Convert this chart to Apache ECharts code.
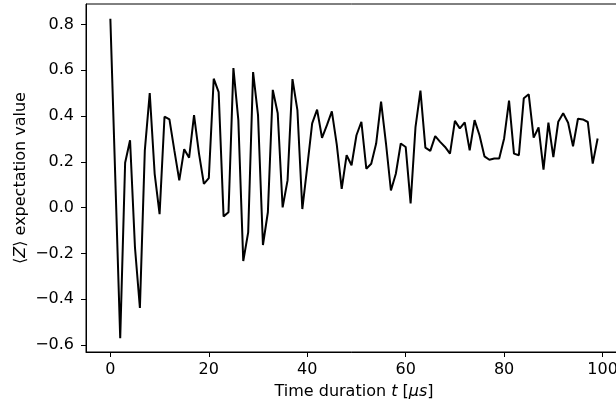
<!DOCTYPE html>
<html>
<head>
<meta charset="utf-8">
<script src="https://cdn.jsdelivr.net/npm/echarts@6/dist/echarts.min.js"></script>
<style>
html,body{margin:0;padding:0;background:#fff;}
#c{width:616px;height:408px;}
</style>
</head>
<body>
<div id="c"></div>
<script>
const times = [0,1,2,3,4,5,6,7,8,9,10,11,12,13,14,15,16,17,18,19,20,21,22,23,24,25,26,27,28,29,30,31,32,33,34,35,36,37,38,39,40,41,42,43,44,45,46,47,48,49,50,51,52,53,54,55,56,57,58,59,60,61,62,63,64,65,66,67,68,69,70,71,72,73,74,75,76,77,78,79,80,81,82,83,84,85,86,87,88,89,90,91,92,93,94,95,96,97,98,99];
const zValues = [0.825,0.13,-0.570,0.196,0.294,-0.174,-0.438,0.25,0.50,0.148,
-0.028,0.397,0.385,0.25,0.119,0.255,0.218,0.404,0.237,0.104,
0.129,0.563,0.504,-0.038,-0.02,0.609,0.382,-0.233,-0.108,0.592,
0.404,-0.163,-0.02,0.514,0.412,0.001,0.119,0.561,0.426,-0.006,
0.178,0.368,0.428,0.305,0.36,0.42,0.275,0.082,0.229,0.185,
0.316,0.375,0.170,0.192,0.28,0.463,0.28,0.075,0.148,0.28,
0.265,0.019,0.353,0.511,0.262,0.248,0.312,0.287,0.265,0.236,
0.379,0.346,0.372,0.25,0.382,0.316,0.224,0.209,0.215,0.215,
0.302,0.467,0.236,0.229,0.478,0.495,0.306,0.350,0.166,0.371,
0.221,0.375,0.412,0.371,0.268,0.388,0.385,0.374,0.192,0.302];
const xTicks = [0,20,40,60,80,100];
const yTicks = [-0.6,-0.4,-0.2,0.0,0.2,0.4,0.6,0.8];

const FONT = 'DejaVu Sans';
const FS = 16;
const chart = echarts.init(document.getElementById('c'), null, {renderer:'canvas'});
chart.setOption({
  animation:false,
  backgroundColor:'#ffffff',
  grid:{left:86, top:4, width:536, height:348, outerBoundsMode:'none', containLabel:false,
        show:true, borderColor:'#000', borderWidth:1, backgroundColor:'transparent'},
  xAxis:{
    type:'value', min:-4.95, max:103.95,
    name:'Time duration {i|t} [{i|μs}]', nameLocation:'middle', nameGap:32, nameMoveOverlap:false,
    nameTextStyle:{fontFamily:FONT, fontSize:FS, color:'#000', rich:{i:{fontFamily:FONT, fontSize:FS, fontStyle:'italic', color:'#000'}}},
    axisLine:{show:true, onZero:false, lineStyle:{color:'#000', width:1}},
    axisTick:{show:true, inside:false, length:5, lineStyle:{color:'#000', width:1}, customValues:xTicks},
    axisLabel:{show:true, margin:10, fontFamily:FONT, fontSize:FS, color:'#000', customValues:xTicks,
      formatter:v=>String(Math.round(v))},
    splitLine:{show:false}
  },
  yAxis:{
    type:'value', min:-0.63, max:0.889,
    name:'⟨{i|Z}⟩ expectation value', nameLocation:'middle', nameGap:57, nameRotate:90, nameMoveOverlap:false,
    nameTextStyle:{fontFamily:FONT, fontSize:FS, color:'#000', rich:{i:{fontFamily:FONT, fontSize:FS, fontStyle:'italic', color:'#000'}}},
    axisLine:{show:true, onZero:false, lineStyle:{color:'#000', width:1}},
    axisTick:{show:true, inside:false, length:5, lineStyle:{color:'#000', width:1}, customValues:yTicks},
    axisLabel:{show:true, margin:12, fontFamily:FONT, fontSize:FS, color:'#000', customValues:yTicks,
      formatter:v=>v.toFixed(1).replace('-','\u2212')},
    splitLine:{show:false}
  },
  series:[{
    type:'line',
    data:times.map((t,i)=>[t, zValues[i]]),
    showSymbol:false, symbol:'none',
    lineStyle:{color:'#000', width:2},
    clip:true
  }]
});
</script>
</body>
</html>
